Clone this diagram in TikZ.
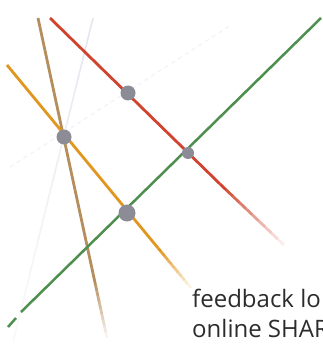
\documentclass[tikz,border=0pt]{standalone}
\usepackage{fontspec}
\setsansfont{Open Sans}
\usepackage{xcolor}
\usetikzlibrary{calc}

\definecolor{redline}{HTML}{D0432E}
\definecolor{greenline}{HTML}{4E8E4E}
\definecolor{orangeline}{HTML}{E1961F}
\definecolor{brownline}{HTML}{B68E5E}
\definecolor{faintline}{HTML}{E6E6EF}
\definecolor{dotgray}{HTML}{8C8C96}
\definecolor{textgray}{HTML}{2C2C2C}

\begin{document}
\begin{tikzpicture}[x=1pt, y=-1pt,
    stroke/.style={line width=#1},
    site/.style={fill=dotgray},
    caption/.style={anchor=base west, inner sep=0, text=textgray,
      font=\sffamily\fontsize{24}{30}\selectfont}]
  \useasboundingbox (0,0) rectangle (322,350);
  \clip (0,0) rectangle (322,350);
  % Faint background lines
  \coordinate (fA) at (93,18);   \coordinate (fB) at (13,342);
  \coordinate (gA) at (10,167);  \coordinate (gB) at (231,25);
  \foreach \i in {0,...,9} {
    \draw[stroke=1.6pt, faintline, opacity=1-\i/12]
      ($(fA)!\i/10!(fB)$) -- ($(fA)!\i/10+0.1!(fB)$);
  }
  \draw[stroke=1pt, faintline!60, dash pattern=on 4pt off 4pt] (gA) -- (gB);
  % Brown line (fades at the bottom)
  \coordinate (bA) at (38,18);  \coordinate (bM) at (94,278);  \coordinate (bB) at (107,338);
  \draw[stroke=2.8pt, brownline] (bA) -- (bM);
  \foreach \i in {0,...,9} {
    \draw[stroke=2.8pt, brownline, opacity=1-\i/10]
      ($(bM)!\i/10!(bB)$) -- ($(bM)!\i/10+0.1!(bB)$);
  }
  % Orange line (fades at the bottom)
  \coordinate (oA) at (7,65);  \coordinate (oM) at (158,248);  \coordinate (oB) at (191,288);
  \draw[stroke=2.8pt, orangeline] (oA) -- (oM);
  \foreach \i in {0,...,9} {
    \draw[stroke=2.8pt, orangeline, opacity=1-\i/10]
      ($(oM)!\i/10!(oB)$) -- ($(oM)!\i/10+0.1!(oB)$);
  }
  % Red line (fades at the lower right)
  \coordinate (rA) at (50,18);  \coordinate (rM) at (220,184);  \coordinate (rB) at (284,245);
  \draw[stroke=2.8pt, redline] (rA) -- (rM);
  \foreach \i in {0,...,9} {
    \draw[stroke=2.8pt, redline, opacity=1-\i/10]
      ($(rM)!\i/10!(rB)$) -- ($(rM)!\i/10+0.1!(rB)$);
  }
  % Green line, broken where the faint line crosses it
  \coordinate (nA) at (321,18);  \coordinate (nM) at (21,312);
  \coordinate (nN) at (16,318);  \coordinate (nB) at (8,327);
  \draw[stroke=2.5pt, greenline] (nA) -- (nM);
  \draw[stroke=2.5pt, greenline] (nN) -- (nB);
  % Crossing points
  \fill[site] (128,93) circle (7.5pt) coordinate (p1);
  \fill[site] (64,137) circle (7.5pt) coordinate (p2);
  \fill[site] (188,153) circle (6pt) coordinate (p3);
  \fill[site] (127,213) circle (8.5pt) coordinate (p4);
  % Caption text, cut off at the right edge
  \node[caption] (fb) at (192,307) {feedback lo};
  \node[caption] (os) at (192,337) {online SHAR};
\end{tikzpicture}
\end{document}
